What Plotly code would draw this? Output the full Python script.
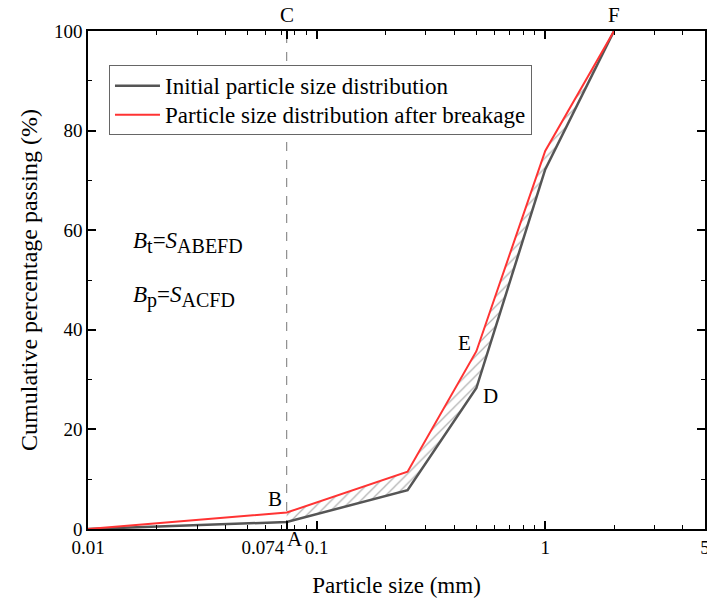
import math
import plotly.graph_objects as go

# Data
sizes = [0.01, 0.074, 0.25, 0.5, 1.0, 2.0]
initial = [0.0, 1.4, 7.8, 28.3, 72.2, 100.0]
after = [0.0, 3.3, 11.5, 35.7, 75.9, 100.0]
x_tickvals = [0.01, 0.074, 0.1, 1, 5]
x_ticktext = ["0.01", "0.074" + "\u2002" * 5, "0.1", "1", "5"]
y_tickvals = [0, 20, 40, 60, 80, 100]
minor_x = [k * 10 ** e for e in (-2, -1, 0) for k in range(2, 10) if k * 10 ** e <= 5]
series_names = ["Initial particle size distribution", "Particle size distribution after breakage"]

FONT = "Liberation Serif"
GRAY = "#555555"
RED = "#FF3333"

fig = go.Figure()

# hatched region ABEFD
poly_x = sizes[1:] + sizes[1:][::-1]
poly_y = after[1:] + initial[1:][::-1]
fig.add_trace(go.Scatter(
    x=poly_x, y=poly_y, mode="lines", fill="toself", line=dict(width=0),
    fillcolor="rgba(0,0,0,0)",
    fillpattern=dict(shape="/", size=7, solidity=0.18, fgcolor="#666666", bgcolor="rgba(255,255,255,0)"),
    showlegend=False, hoverinfo="skip"))

# dashed line at 0.074
fig.add_trace(go.Scatter(x=[0.074, 0.074], y=[0, 100], mode="lines",
                         line=dict(color="#777777", width=1, dash="dash"),
                         showlegend=False, hoverinfo="skip"))

LEG = '<span style="font-size:23px">{}</span>'
fig.add_trace(go.Scatter(x=sizes, y=initial, mode="lines", name=LEG.format(series_names[0]),
                         line=dict(color=GRAY, width=2.5)))
fig.add_trace(go.Scatter(x=sizes, y=after, mode="lines", name=LEG.format(series_names[1]),
                         line=dict(color=RED, width=2)))

lx = math.log10
ann = [
    dict(x=lx(0.074), y=100, text="C", yanchor="bottom", yshift=2),
    dict(x=lx(2.0), y=100, text="F", yanchor="bottom", yshift=2),
    dict(x=lx(0.074), y=3.3, text="B", xanchor="right", yanchor="bottom", xshift=-3, yshift=0),
    dict(x=lx(0.074), y=0, text="A", xanchor="left", yanchor="top", xshift=-2, yshift=4),
    dict(x=lx(0.5), y=35.7, text="E", xanchor="right", yanchor="bottom", xshift=-3, yshift=-6),
    dict(x=lx(0.5), y=28.3, text="D", xanchor="left", yanchor="top", xshift=5, yshift=6),
]
annotations = [dict(a, xref="x", yref="y", showarrow=False, font=dict(family=FONT, size=21, color="black")) for a in ann]
SUB = '<span style="font-size:20px">{}</span>'
annotations += [
    dict(x=lx(0.0154), y=57.5, xref="x", yref="y", showarrow=False, xanchor="left",
         text="<i>B</i><sub>" + SUB.format("t") + "</sub>=<i>S</i><sub>" + SUB.format("ABEFD") + "</sub>",
         font=dict(family=FONT, size=23, color="black")),
    dict(x=lx(0.0154), y=46.5, xref="x", yref="y", showarrow=False, xanchor="left",
         text="<i>B</i><sub>" + SUB.format("p") + "</sub>=<i>S</i><sub>" + SUB.format("ACFD") + "</sub>",
         font=dict(family=FONT, size=23, color="black")),
]

fig.update_layout(
    width=707, height=603, margin=dict(l=88, r=2, t=31, b=74, autoexpand=False),
    paper_bgcolor="white", plot_bgcolor="white",
    font=dict(family=FONT, size=19, color="black"),
    annotations=annotations,
    legend=dict(x=0.034, y=0.931, xanchor="left", yanchor="top",
                bgcolor="white", bordercolor="#666666", borderwidth=1,
                font=dict(family=FONT, size=20), itemwidth=45, tracegroupgap=0),
    xaxis=dict(type="log", range=[-2, lx(5) + 1e-6], tickmode="array", tickvals=x_tickvals, ticktext=x_ticktext,
               tickangle=0, ticklabeloverflow="allow", automargin=False,
               ticks="inside", ticklen=8, tickwidth=1.5, tickcolor="black",
               showline=True, linecolor="black", linewidth=1.5, mirror="ticks", showgrid=False, zeroline=False,
               minor=dict(tickmode="array", tickvals=minor_x, ticks="inside", ticklen=4, tickwidth=1.2, tickcolor="black", showgrid=False),
               title=dict(text="Particle size (mm)", font=dict(size=23), standoff=20),
               tickfont=dict(size=19)),
    yaxis=dict(range=[0, 100], tickmode="array", tickvals=y_tickvals, automargin=False,
               ticks="inside", ticklen=8, tickwidth=1.5, tickcolor="black",
               showline=True, linecolor="black", linewidth=1.5, mirror="ticks", showgrid=False, zeroline=False,
               minor=dict(dtick=10, ticks="inside", ticklen=4, tickwidth=1.2, tickcolor="black", showgrid=False),
               title=dict(text="Cumulative percentage passing (%)", font=dict(size=24), standoff=10),
               tickfont=dict(size=19)),
)

fig.write_html("out.html")
